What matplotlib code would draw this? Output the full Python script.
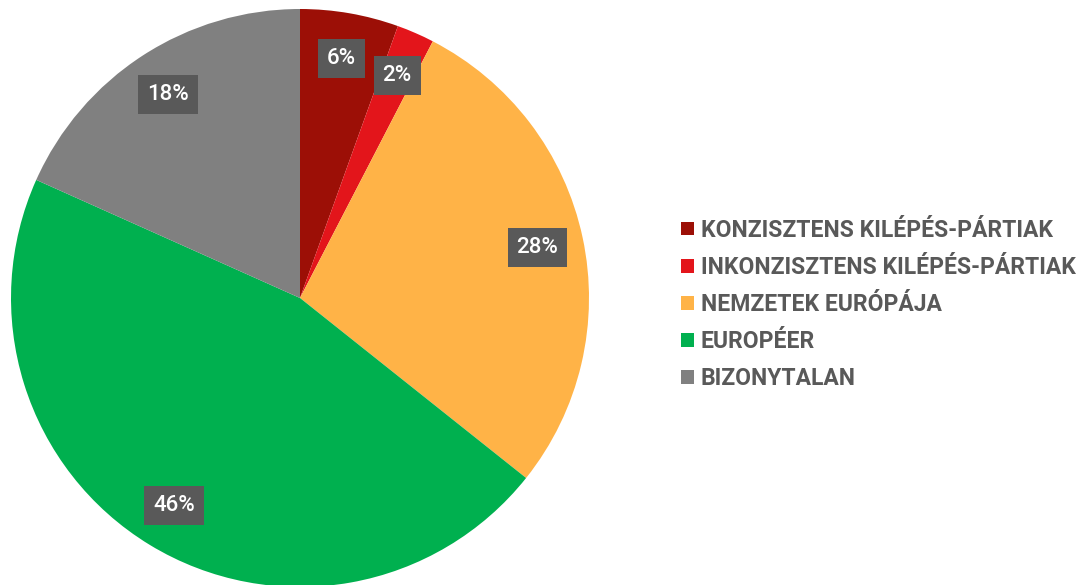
import matplotlib
matplotlib.use("Agg")
import matplotlib.pyplot as plt
from matplotlib.patches import Patch
import numpy as np

categories = ["KONZISZTENS KILÉPÉS-PÁRTIAK", "INKONZISZTENS KILÉPÉS-PÁRTIAK",
              "NEMZETEK EURÓPÁJA", "EUROPÉER", "BIZONYTALAN"]
values = [5.5, 2.1, 28.1, 46.0, 18.3]
labels = ["6%", "2%", "28%", "46%", "18%"]
colors = ["#9C0F06", "#E3151B", "#FFB347", "#00B04F", "#808080"]

plt.rcParams['font.family'] = ['Roboto', 'DejaVu Sans']

fig = plt.figure(figsize=(10.81, 5.85), dpi=100)
W, H = 1081, 585
cx, cy, r = 300, 298, 289
ax = fig.add_axes([(cx - r) / W, (H - cy - r) / H, 2 * r / W, 2 * r / H])
wedges, _ = ax.pie(values, colors=colors, startangle=90, counterclock=False,
                   radius=1, wedgeprops=dict(linewidth=0))
for w, lab in zip(wedges, labels):
    ang = np.deg2rad((w.theta1 + w.theta2) / 2)
    x, y = 0.84 * np.cos(ang), 0.84 * np.sin(ang)
    ax.text(x, y, lab, ha='center', va='center', color='white', fontsize=16,
            fontweight='medium',
            bbox=dict(boxstyle='square,pad=0.4', fc='#595959', ec='none'))
ax.set_xlim(-1, 1)
ax.set_ylim(-1, 1)
ax.set_aspect('equal')
ax.axis('off')

handles = [Patch(facecolor=c, edgecolor='none') for c in colors]
leg = fig.legend(handles, categories, loc='center left',
                 bbox_to_anchor=(681 / W, (H - 304.5) / H), frameon=False,
                 borderaxespad=0, borderpad=0,
                 handlelength=0.55, handleheight=0.55, handletextpad=0.32,
                 labelspacing=0.62, prop=dict(family='Roboto', weight='bold', size=16.5))
for t in leg.get_texts():
    t.set_color('#595959')

fig.savefig("out.png", dpi=100)
